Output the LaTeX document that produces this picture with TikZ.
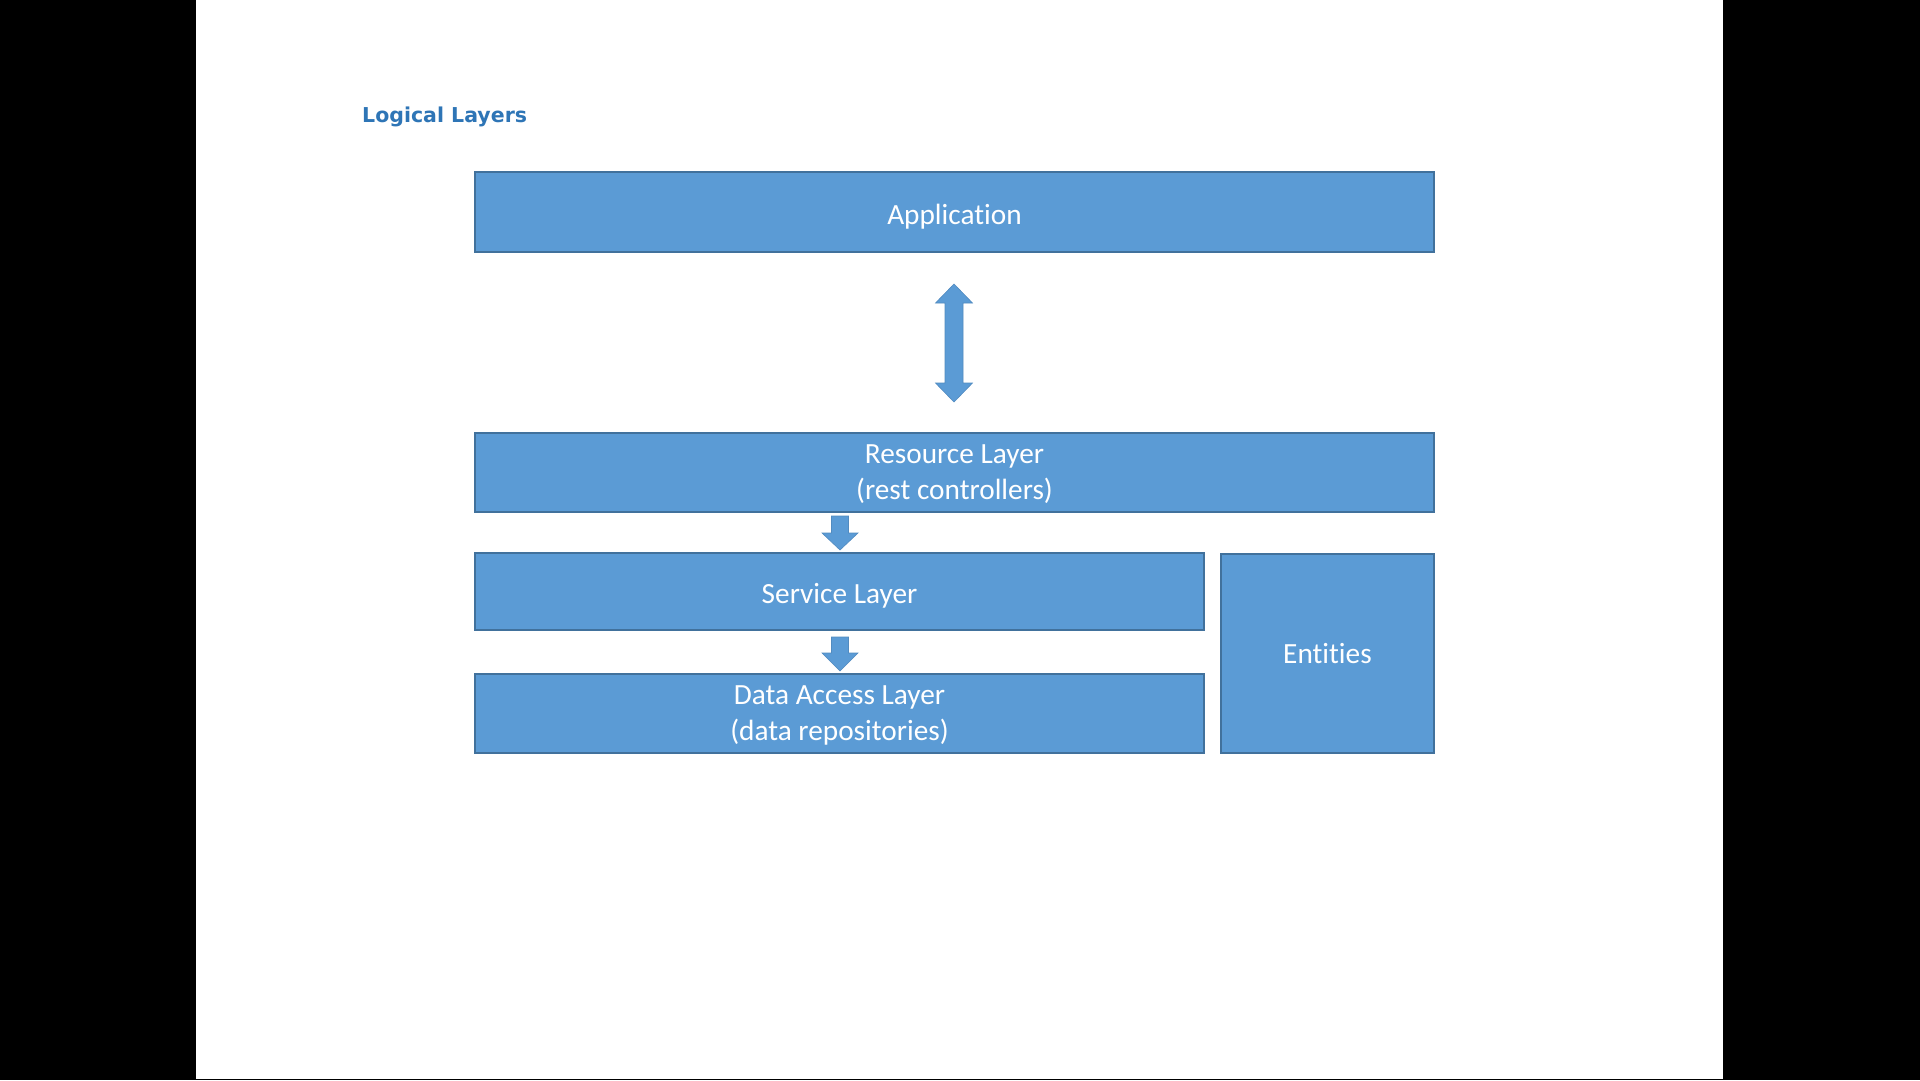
\documentclass[tikz,border=0pt]{standalone}
\usepackage{fontspec}
\setmainfont{Carlito}[Ligatures=NoCommon]
\newfontfamily\titlefont{DejaVu Sans}
\definecolor{boxfill}{HTML}{5B9BD5}
\definecolor{boxline}{HTML}{41719C}
\definecolor{titleblue}{HTML}{2E75B6}
\begin{document}
\begin{tikzpicture}[x=1pt,y=-1pt,
  layer/.style={draw=boxline, line width=1.2pt, fill=boxfill, text=white, inner sep=0pt,
    align=center, font=\fontsize{29.3}{36}\selectfont},
  oneline/.style={text depth=0pt, text height=24pt},
  twoline/.style={text depth=0pt, execute at begin node={\vspace*{4pt}}},
  fatarrow/.style={fill=boxfill, draw=boxfill!90!black, line width=0.6pt, line join=miter}]
\useasboundingbox (0,0) rectangle (1920,1080);
\fill[black] (0,0) rectangle (1920,1080);
\fill[white] (196,0) rectangle (1723,1079);
\node[anchor=base west, text=titleblue, inner sep=0pt, font=\titlefont\bfseries\fontsize{20.5}{25}\selectfont] (title) at (362,122) {Logical Layers};
\node[layer, oneline, minimum width=959, minimum height=80] (app) at (954.5,212) {Application};
\node[layer, twoline, minimum width=959, minimum height=79] (res) at (954.5,472.5) {Resource Layer\\(rest controllers)};
\node[layer, oneline, minimum width=729, minimum height=77] (svc) at (839.5,591.5) {Service Layer};
\node[layer, twoline, minimum width=729, minimum height=79] (dal) at (839.5,713.5) {Data Access Layer\\(data repositories)};
\node[layer, text depth=0pt, minimum width=213, minimum height=199] (ent) at (1327.5,653.5) {Entities};
% double arrow between Application and Resource Layer
\draw[fatarrow] (954,284) -- (972.5,303) -- (963,303) -- (963,383) -- (972.5,383) -- (954,402)
  -- (935.5,383) -- (945,383) -- (945,303) -- (935.5,303) -- cycle;
% down arrow Resource -> Service
\draw[fatarrow] (831.5,516) -- (848.5,516) -- (848.5,533) -- (858,533) -- (840,550)
  -- (822,533) -- (831.5,533) -- cycle;
% down arrow Service -> Data Access
\draw[fatarrow] (831.5,637) -- (848.5,637) -- (848.5,653) -- (858,653) -- (840,671)
  -- (822,653) -- (831.5,653) -- cycle;
\end{tikzpicture}
\end{document}
